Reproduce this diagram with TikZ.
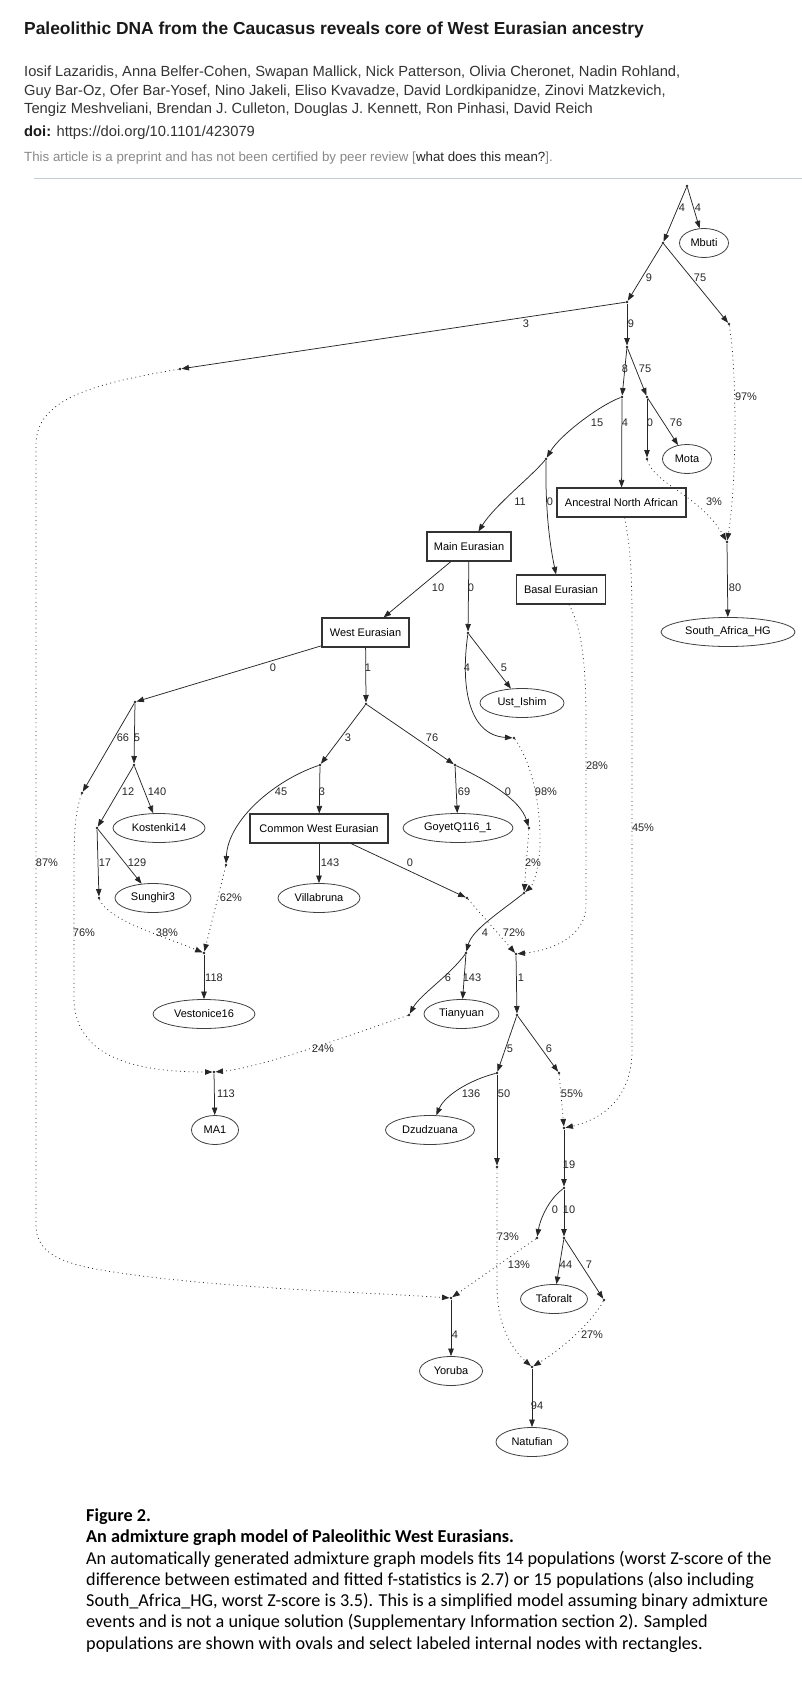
\documentclass[tikz,border=0pt]{standalone}
\usepackage{xcolor}
\usepackage{fontspec}
\setmainfont{Liberation Sans}
\newfontfamily\capfont{Carlito}
\usepackage{tikz}
\usetikzlibrary{arrows.meta,shapes.geometric}

\definecolor{rulegray}{HTML}{C5CDD5}
\definecolor{textgray}{HTML}{333333}
\definecolor{notegray}{HTML}{888888}

\begin{document}
\begin{tikzpicture}[
    x=1pt, y=-1pt,
    pt/.style={circle, fill=black!85, inner sep=0pt, minimum size=2.6pt},
    pop/.style={ellipse, draw=black!75, line width=0.8pt, inner sep=0pt, minimum height=29pt, font=\fontsize{11}{13}\selectfont},
    grp/.style={rectangle, draw=black!80, line width=1.1pt, inner sep=0pt, minimum height=29pt, font=\fontsize{11}{13}\selectfont},
    edge/.style={-{Triangle[length=7.5pt,width=5.5pt]}, line width=0.75pt, draw=black!85},
    mix/.style={edge, dash pattern=on 0.9pt off 3.4pt},
    lab/.style={font=\fontsize{11}{13}\selectfont, inner sep=0pt, text=black!85},
    head/.style={anchor=base west, inner sep=0pt, font=\fontsize{14.7}{17}\selectfont, text=textgray}
]
\useasboundingbox (0,0) rectangle (802,1707);

% Article header
\node[head, font=\bfseries\fontsize{17.4}{20}\selectfont, text=black!90] (title) at (24,35) {Paleolithic DNA from the Caucasus reveals core of West Eurasian ancestry};
\node[head] (au1) at (24,77) {Iosif Lazaridis, Anna Belfer-Cohen, Swapan Mallick, Nick Patterson, Olivia Cheronet, Nadin Rohland,};
\node[head] (au2) at (24,96) {Guy Bar-Oz, Ofer Bar-Yosef, Nino Jakeli, Eliso Kvavadze, David Lordkipanidze, Zinovi Matzkevich,};
\node[head] (au3) at (24,114) {Tengiz Meshveliani, Brendan J. Culleton, Douglas J. Kennett, Ron Pinhasi, David Reich};
\node[head] (doi) at (24,137) {\textbf{\color{black!90}doi:} https://doi.org/10.1101/423079};
\node[head, font=\fontsize{13.3}{15}\selectfont, text=notegray] (note) at (24,162) {This article is a preprint and has not been certified by peer review [\textcolor{black!85}{what does this mean?}].};
\draw[rulegray, line width=1pt] (34,179) -- (802,179);

% Internal nodes
\node[pt] (root) at (687,186) {};
\node[pt] (n1) at (663,243) {};
\node[pt] (n2) at (627,302) {};
\node[pt] (n3) at (729,324) {};
\node[pt] (n4) at (180,369) {};
\node[pt] (n5) at (627,347) {};
\node[pt] (n6) at (622,397) {};
\node[pt] (n7) at (647,397) {};
\node[pt] (n8) at (546,459) {};
\node[pt] (n9) at (647,459) {};
\node[pt] (n10) at (727,542) {};
\node[pt] (n11) at (468,633) {};
\node[pt] (n12) at (135,702) {};
\node[pt] (n13) at (366,704) {};
\node[pt] (n14) at (514,738) {};
\node[pt] (n15) at (82,793) {};
\node[pt] (n16) at (134,765) {};
\node[pt] (n17) at (320,765) {};
\node[pt] (n18) at (455,765) {};
\node[pt] (n19) at (97,828) {};
\node[pt] (n20) at (99,898) {};
\node[pt] (n21) at (226,865) {};
\node[pt] (n22) at (529,828) {};
\node[pt] (n23) at (524,893) {};
\node[pt] (n24) at (467,898) {};
\node[pt] (n25) at (204,953) {};
\node[pt] (n26) at (466,953) {};
\node[pt] (n27) at (516,954) {};
\node[pt] (n28) at (409,1015) {};
\node[pt] (n29) at (517,1015) {};
\node[pt] (n30) at (214,1072) {};
\node[pt] (n31) at (497,1073) {};
\node[pt] (n32) at (559,1073) {};
\node[pt] (n33) at (497,1167) {};
\node[pt] (n34) at (564,1128) {};
\node[pt] (n35) at (564,1188) {};
\node[pt] (n36) at (537,1238) {};
\node[pt] (n37) at (564,1238) {};
\node[pt] (n38) at (532,1367) {};
\node[pt] (n39) at (451,1298) {};
\node[pt] (n40) at (604,1300) {};

% Labeled internal nodes
\node[grp, minimum width=129pt] (ana) at (621.5,502.5) {Ancestral North African};
\node[grp, minimum width=84pt] (maineur) at (469,546.5) {Main Eurasian};
\node[grp, minimum width=89pt] (basal) at (561,589.5) {Basal Eurasian};
\node[grp, minimum width=87pt] (westeur) at (365.5,632.5) {West Eurasian};
\node[grp, minimum width=138pt] (cwe) at (319,828.5) {Common West Eurasian};

% Sampled populations
\node[pop, minimum width=49pt] (mbuti) at (704,243) {Mbuti};
\node[pop, minimum width=49pt] (mota) at (687,459) {Mota};
\node[pop, minimum width=134pt] (sahg) at (728,632) {South\_Africa\_HG};
\node[pop, minimum width=84pt] (ustishim) at (522,703) {Ust\_Ishim};
\node[pop, minimum width=92pt] (kostenki) at (159,828) {Kostenki14};
\node[pop, minimum width=76pt] (sunghir) at (153,898) {Sunghir3};
\node[pop, minimum width=110pt] (goyet) at (458,828) {GoyetQ116\_1};
\node[pop, minimum width=82pt] (villabruna) at (319,898) {Villabruna};
\node[pop, minimum width=102pt] (vestonice) at (204,1014) {Vestonice16};
\node[pop, minimum width=75pt] (tianyuan) at (461.5,1014) {Tianyuan};
\node[pop, minimum width=47pt] (ma1) at (215,1130) {MA1};
\node[pop, minimum width=89pt] (dzudzuana) at (430,1130) {Dzudzuana};
\node[pop, minimum width=67pt] (taforalt) at (554,1299) {Taforalt};
\node[pop, minimum width=63pt] (yoruba) at (451,1371) {Yoruba};
\node[pop, minimum width=72pt] (natufian) at (532,1442) {Natufian};

% Drift edges
\draw[edge] (root) -- (n1) node[lab] (d1) at (682,208) {4};
\draw[edge] (root) -- (mbuti) node[lab] (d2) at (698,208) {4};
\draw[edge] (n1) -- (n2) node[lab] (d3) at (649,278) {9};
\draw[edge] (n1) -- (n3) node[lab] (d4) at (700,278) {75};
\draw[edge] (n2) -- (n4) node[lab] (d5) at (526,324) {3};
\draw[edge] (n2) -- (n5) node[lab] (d6) at (631,324) {9};
\draw[edge] (n5) -- (n6) node[lab] (d7) at (625,369) {8};
\draw[edge] (n5) -- (n7) node[lab] (d8) at (645,369) {75};
\draw[edge] (n6) .. controls (600,405) and (560,435) .. (n8) node[lab] (d9) at (597,423) {15};
\draw[edge] (n6) -- (ana) node[lab] (d10) at (625,423) {4};
\draw[edge] (n7) -- (n9) node[lab] (d11) at (650,423) {0};
\draw[edge] (n7) -- (mota) node[lab] (d12) at (676,423) {76};
\draw[edge] (n8) .. controls (530,478) and (495,505) .. (maineur) node[lab] (d13) at (520,502) {11};
\draw[edge] (n8) .. controls (545,520) and (552,555) .. ([xshift=-5pt]basal.north) node[lab] (d14) at (550,502) {0};
\draw[edge] (n10) -- (sahg) node[lab] (d15) at (735,588) {80};
\draw[edge] (maineur) -- (westeur) node[lab] (d16) at (438,588) {10};
\draw[edge] (maineur) -- (n11) node[lab] (d17) at (471,588) {0};
\draw[edge] (westeur) -- (n12) node[lab] (d18) at (273,668) {0};
\draw[edge] (westeur) -- (n13) node[lab] (d19) at (368,668) {1};
\draw[edge] (n11) -- (ustishim) node[lab] (d20) at (504,668) {5};
\draw[edge] (n11) .. controls (460,690) and (470,735) .. (n14) node[lab] (d21) at (467,668) {4};
\draw[edge] (n12) -- (n15) node[lab] (d22) at (123,738) {66};
\draw[edge] (n12) -- (n16) node[lab] (d23) at (137,738) {5};
\draw[edge] (n13) -- (n17) node[lab] (d24) at (348,738) {3};
\draw[edge] (n13) -- (n18) node[lab] (d25) at (432,738) {76};
\draw[edge] (n16) -- (n19) node[lab] (d26) at (128,792) {12};
\draw[edge] (n16) -- (kostenki) node[lab] (d27) at (157,792) {140};
\draw[edge] (n17) .. controls (275,780) and (228,820) .. (n21) node[lab] (d28) at (281,792) {45};
\draw[edge] (n17) -- (cwe) node[lab] (d29) at (322,792) {3};
\draw[edge] (n18) -- (goyet) node[lab] (d30) at (464,792) {69};
\draw[edge] (n18) .. controls (490,782) and (520,800) .. (n22) node[lab] (d31) at (508,792) {0};
\draw[edge] (n19) -- (n20) node[lab] (d32) at (105,863) {17};
\draw[edge] (n19) -- (sunghir) node[lab] (d33) at (137,863) {129};
\draw[edge] (cwe) -- (villabruna) node[lab] (d34) at (330,863) {143};
\draw[edge] (cwe) -- (n24) node[lab] (d35) at (410,863) {0};
\draw[edge] (n23) .. controls (500,912) and (472,930) .. (n26) node[lab] (d36) at (485,933) {4};
\draw[edge] (n25) -- (vestonice) node[lab] (d37) at (214,978) {118};
\draw[edge] (n26) .. controls (450,975) and (420,995) .. (n28) node[lab] (d38) at (448,978) {6};
\draw[edge] (n26) -- (tianyuan) node[lab] (d39) at (472,978) {143};
\draw[edge] (n27) -- (n29) node[lab] (d40) at (521,978) {1};
\draw[edge] (n29) -- (n31) node[lab] (d41) at (510,1049) {5};
\draw[edge] (n29) -- (n32) node[lab] (d42) at (549,1049) {6};
\draw[edge] (n30) -- (ma1) node[lab] (d43) at (226,1094) {113};
\draw[edge] (n31) .. controls (470,1080) and (445,1095) .. (dzudzuana) node[lab] (d44) at (471,1094) {136};
\draw[edge] (n31) -- (n33) node[lab] (d45) at (504,1094) {50};
\draw[edge] (n34) -- (n35) node[lab] (d46) at (569,1165) {19};
\draw[edge] (n35) .. controls (548,1200) and (540,1220) .. (n36) node[lab] (d47) at (555,1210) {0};
\draw[edge] (n35) -- (n37) node[lab] (d48) at (569,1210) {10};
\draw[edge] (n37) -- (taforalt) node[lab] (d49) at (566,1265) {44};
\draw[edge] (n37) -- (n40) node[lab] (d50) at (589,1265) {7};
\draw[edge] (n39) -- (yoruba) node[lab] (d51) at (455,1335) {4};
\draw[edge] (n38) -- (natufian) node[lab] (d52) at (537,1406) {94};

% Admixture edges
\draw[mix] (n3) .. controls (737,370) and (737,480) .. (n10) node[lab] (a1) at (746,397) {97\%};
\draw[mix] (n9) .. controls (655,485) and (700,495) .. (n10) node[lab] (a2) at (714,502) {3\%};
\draw[mix] (n4) .. controls (90,384) and (36,400) .. (36,445) -- (36,1225) .. controls (36,1262) and (80,1268) .. (150,1277) .. controls (260,1290) and (380,1293) .. (n39) node[lab] (a3) at (47,863) {87\%};
\draw[mix] (n36) -- (n39) node[lab] (a4) at (519,1265) {13\%};
\draw[mix] (n14) .. controls (530,760) and (541,800) .. (540,845) .. controls (539,872) and (532,886) .. (n23) node[lab] (a5) at (546,792) {98\%};
\draw[mix] (n22) -- (n23) node[lab] (a6) at (533,863) {2\%};
\draw[mix] (n20) .. controls (108,920) and (160,935) .. (n25) node[lab] (a7) at (167,933) {38\%};
\draw[mix] (n21) -- (n25) node[lab] (a8) at (231,898) {62\%};
\draw[mix] (n24) -- (n27) node[lab] (a9) at (514,933) {72\%};
\draw[mix] ([xshift=8pt]basal.south) .. controls (580,625) and (586,655) .. (586,720) -- (586,905) .. controls (586,935) and (555,950) .. (n27) node[lab] (a10) at (597,766) {28\%};
\draw[mix] (n15) .. controls (74,815) and (74,840) .. (74,880) -- (74,1000) .. controls (76,1055) and (130,1072) .. (n30) node[lab] (a11) at (84,933) {76\%};
\draw[mix] (n28) .. controls (350,1035) and (260,1068) .. (n30) node[lab] (a12) at (323,1049) {24\%};
\draw[mix] (n32) -- (n34) node[lab] (a13) at (572,1094) {55\%};
\draw[mix] ([xshift=3pt]ana.south) .. controls (630,545) and (632,570) .. (632,620) -- (632,1050) .. controls (632,1100) and (600,1120) .. (n34) node[lab] (a14) at (643,828) {45\%};
\draw[mix] (n33) -- (497,1290) .. controls (498,1330) and (515,1352) .. (n38) node[lab] (a15) at (508,1237) {73\%};
\draw[mix] (n40) .. controls (590,1325) and (560,1350) .. (n38) node[lab] (a16) at (592,1335) {27\%};

% Figure caption
\node[anchor=north west, inner sep=0pt, align=left, font=\capfont\fontsize{18.2}{21.3}\selectfont] (caption) at (86,1508.5) {\textbf{Figure 2.}\\
\textbf{An admixture graph model of Paleolithic West Eurasians.}\\
An automatically generated admixture graph models fits 14 populations (worst Z-score of the\\
difference between estimated and fitted f-statistics is 2.7) or 15 populations (also including\\
South\_Africa\_HG, worst Z-score is 3.5). This is a simplified model assuming binary admixture\\
events and is not a unique solution (Supplementary Information section 2). Sampled\\
populations are shown with ovals and select labeled internal nodes with rectangles.};

\end{tikzpicture}
\end{document}
